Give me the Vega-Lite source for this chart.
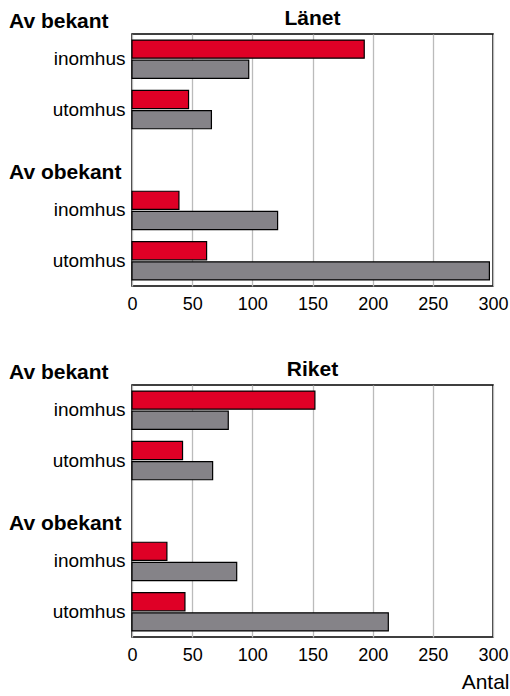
{
  "$schema": "https://vega.github.io/schema/vega-lite/v6.json",
  "background": "white",
  "padding": {"left": 8, "top": 6, "right": 2, "bottom": 2},
  "spacing": 43,
  "config": {
    "font": "Liberation Sans",
    "view": {"stroke": "black", "strokeWidth": 1.5},
    "axis": {"labelFont": "Liberation Sans", "labelColor": "black", "domain": false, "ticks": false, "gridColor": "#bbbbbb", "gridWidth": 1.3, "titleFont": "Liberation Sans", "titleColor": "black", "titleFontWeight": "normal", "labelFlush": false, "labelOverlap": false}
  },
  "datasets": {
    "bars": [
      {"omrade": "Länet", "rad": "Av bekant inomhus", "serie": "Serie 1", "antal": 193},
      {"omrade": "Länet", "rad": "Av bekant inomhus", "serie": "Serie 2", "antal": 97},
      {"omrade": "Länet", "rad": "Av bekant utomhus", "serie": "Serie 1", "antal": 47},
      {"omrade": "Länet", "rad": "Av bekant utomhus", "serie": "Serie 2", "antal": 66},
      {"omrade": "Länet", "rad": "Av obekant inomhus", "serie": "Serie 1", "antal": 39},
      {"omrade": "Länet", "rad": "Av obekant inomhus", "serie": "Serie 2", "antal": 121},
      {"omrade": "Länet", "rad": "Av obekant utomhus", "serie": "Serie 1", "antal": 62},
      {"omrade": "Länet", "rad": "Av obekant utomhus", "serie": "Serie 2", "antal": 297},
      {"omrade": "Riket", "rad": "Av bekant inomhus", "serie": "Serie 1", "antal": 152},
      {"omrade": "Riket", "rad": "Av bekant inomhus", "serie": "Serie 2", "antal": 80},
      {"omrade": "Riket", "rad": "Av bekant utomhus", "serie": "Serie 1", "antal": 42},
      {"omrade": "Riket", "rad": "Av bekant utomhus", "serie": "Serie 2", "antal": 67},
      {"omrade": "Riket", "rad": "Av obekant inomhus", "serie": "Serie 1", "antal": 29},
      {"omrade": "Riket", "rad": "Av obekant inomhus", "serie": "Serie 2", "antal": 87},
      {"omrade": "Riket", "rad": "Av obekant utomhus", "serie": "Serie 1", "antal": 44},
      {"omrade": "Riket", "rad": "Av obekant utomhus", "serie": "Serie 2", "antal": 213}
    ],
    "rubriker": [
      {"omrade": "Länet", "rad": "Av bekant inomhus", "rubrik": "Av bekant"},
      {"omrade": "Länet", "rad": "Av obekant inomhus", "rubrik": "Av obekant"},
      {"omrade": "Riket", "rad": "Av bekant inomhus", "rubrik": "Av bekant"},
      {"omrade": "Riket", "rad": "Av obekant inomhus", "rubrik": "Av obekant"}
    ],
    "titlar": [
      {"omrade": "Länet", "rad": "Av bekant inomhus", "mitt": 150, "titel": "Länet"},
      {"omrade": "Riket", "rad": "Av bekant inomhus", "mitt": 150, "titel": "Riket"}
    ]
  },
  "vconcat": [
    {
      "width": 361,
      "height": 252,
      "layer": [
        {
          "data": {"name": "bars"},
          "transform": [{"filter": "datum.omrade === 'Länet'"}],
          "mark": {"type": "bar", "stroke": "black", "strokeWidth": 1.2},
          "encoding": {
            "y": {"field": "rad", "type": "nominal", "scale": {"domain": ["Av bekant inomhus", "Av bekant utomhus", "Av obekant", "Av obekant inomhus", "Av obekant utomhus"], "paddingInner": 0.24, "paddingOuter": 0.12}, "axis": {"title": null, "labelFontSize": 19, "labelPadding": 7, "labelExpr": "indexof(datum.value, 'inomhus') >= 0 ? 'inomhus' : (indexof(datum.value, 'utomhus') >= 0 ? 'utomhus' : '')"}},
            "yOffset": {"field": "serie", "type": "nominal", "scale": {"domain": ["Serie 1", "Serie 2"], "paddingInner": 0.1, "paddingOuter": 0}},
            "x": {"field": "antal", "type": "quantitative", "scale": {"domain": [0, 300], "nice": false}, "axis": {"title": null, "values": [0, 50, 100, 150, 200, 250, 300], "labelFontSize": 18, "labelPadding": 9, "grid": true}},
            "color": {"field": "serie", "type": "nominal", "scale": {"domain": ["Serie 1", "Serie 2"], "range": ["#df0026", "#858388"]}, "legend": null}
          }
        },
        {
          "data": {"name": "rubriker"},
          "transform": [{"filter": "datum.omrade === 'Länet'"}],
          "mark": {"type": "text", "align": "left", "baseline": "alphabetic", "fontSize": 21, "fontWeight": "bold", "color": "black", "dx": -123, "dy": -31},
          "encoding": {
            "y": {"field": "rad", "type": "nominal"},
            "x": {"datum": 0, "type": "quantitative"},
            "text": {"field": "rubrik"}
          }
        },
        {
          "data": {"name": "titlar"},
          "transform": [{"filter": "datum.omrade === 'Länet'"}],
          "mark": {"type": "text", "align": "center", "baseline": "alphabetic", "fontSize": 21, "fontWeight": "bold", "color": "black", "dy": -34.5},
          "encoding": {
            "y": {"field": "rad", "type": "nominal"},
            "x": {"field": "mitt", "type": "quantitative"},
            "text": {"field": "titel"}
          }
        }
      ]
    },
    {
      "width": 361,
      "height": 252,
      "layer": [
        {
          "data": {"name": "bars"},
          "transform": [{"filter": "datum.omrade === 'Riket'"}],
          "mark": {"type": "bar", "stroke": "black", "strokeWidth": 1.2},
          "encoding": {
            "y": {"field": "rad", "type": "nominal", "scale": {"domain": ["Av bekant inomhus", "Av bekant utomhus", "Av obekant", "Av obekant inomhus", "Av obekant utomhus"], "paddingInner": 0.24, "paddingOuter": 0.12}, "axis": {"title": null, "labelFontSize": 19, "labelPadding": 7, "labelExpr": "indexof(datum.value, 'inomhus') >= 0 ? 'inomhus' : (indexof(datum.value, 'utomhus') >= 0 ? 'utomhus' : '')"}},
            "yOffset": {"field": "serie", "type": "nominal", "scale": {"domain": ["Serie 1", "Serie 2"], "paddingInner": 0.1, "paddingOuter": 0}},
            "x": {"field": "antal", "type": "quantitative", "scale": {"domain": [0, 300], "nice": false}, "axis": {"title": "Antal", "titleFontSize": 21, "titleAnchor": "end", "titleAlign": "right", "titleX": 377, "titlePadding": 7, "values": [0, 50, 100, 150, 200, 250, 300], "labelFontSize": 18, "labelPadding": 9, "grid": true}},
            "color": {"field": "serie", "type": "nominal", "scale": {"domain": ["Serie 1", "Serie 2"], "range": ["#df0026", "#858388"]}, "legend": null}
          }
        },
        {
          "data": {"name": "rubriker"},
          "transform": [{"filter": "datum.omrade === 'Riket'"}],
          "mark": {"type": "text", "align": "left", "baseline": "alphabetic", "fontSize": 21, "fontWeight": "bold", "color": "black", "dx": -123, "dy": -31},
          "encoding": {
            "y": {"field": "rad", "type": "nominal"},
            "x": {"datum": 0, "type": "quantitative"},
            "text": {"field": "rubrik"}
          }
        },
        {
          "data": {"name": "titlar"},
          "transform": [{"filter": "datum.omrade === 'Riket'"}],
          "mark": {"type": "text", "align": "center", "baseline": "alphabetic", "fontSize": 21, "fontWeight": "bold", "color": "black", "dy": -34.5},
          "encoding": {
            "y": {"field": "rad", "type": "nominal"},
            "x": {"field": "mitt", "type": "quantitative"},
            "text": {"field": "titel"}
          }
        }
      ]
    }
  ]
}
